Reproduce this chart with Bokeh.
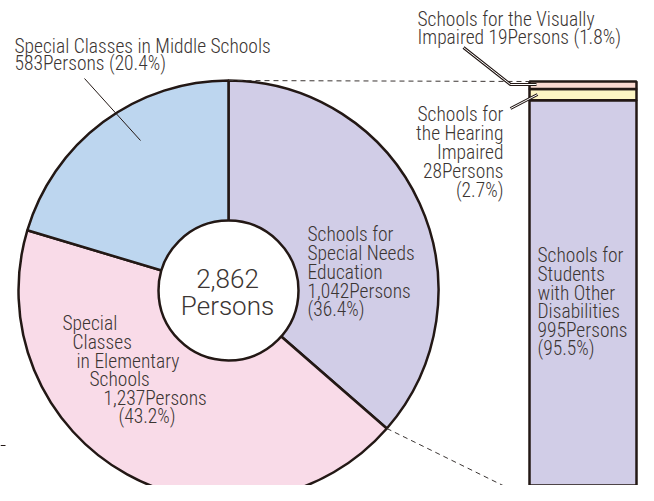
import math
from bokeh.plotting import figure
from bokeh.models import Range1d
from bokeh.core.properties import value
from bokeh.embed import file_html
from bokeh.resources import INLINE

# ---- data ----
pie_labels = ["Schools for Special Needs Education",
              "Special Classes in Elementary Schools",
              "Special Classes in Middle Schools"]
pie_values = [1042, 1237, 583]
pie_colors = ["#d1cde7", "#f9dbe8", "#bdd6ef"]

bar_labels = ["Schools for Students with Other Disabilities",
              "Schools for the Hearing Impaired",
              "Schools for the Visually Impaired"]
bar_values = [995, 28, 19]
bar_colors = ["#d1cde7", "#fcf5c4", "#fad8cf"]

center_text = ["2,862", "Persons"]

FONT = "Roboto Condensed Light"
FONT2 = "Roboto Light"
TXT = "#3b3533"
EDGE = "#231815"

W, H = 638, 485
p = figure(width=W, height=H, x_range=Range1d(0, W), y_range=Range1d(H, 0),
           output_backend="svg", toolbar_location=None, min_border=0,
           x_axis_location=None, y_axis_location=None)
p.grid.visible = False
p.outline_line_color = None
p.background_fill_color = "white"

# ---- pie ----
cx, cy, R, r_in = 228, 290, 210, 70
total = sum(pie_values)
starts, ends = [], []
cum = 0
for v in pie_values:
    starts.append(math.radians(90 - 360 * cum / total))
    cum += v
    ends.append(math.radians(90 - 360 * cum / total))

p.wedge(x=cx, y=cy, radius=R, start_angle=starts, end_angle=ends, direction="clock",
        fill_color=pie_colors, line_color=EDGE, line_width=2.5)
p.circle(x=cx, y=cy, radius=r_in, fill_color="white", line_color=EDGE, line_width=2.5)

# ---- bar ----
bar_top_px, bar_bot_px = 81, 498
btotal = sum(bar_values)
k = btotal / (bar_bot_px - bar_top_px)
p.extra_y_ranges = {"bar": Range1d(start=(bar_bot_px - H) * k, end=(bar_bot_px - 0) * k)}
bottoms, tops = [], []
c = 0
for v in bar_values:
    bottoms.append(c)
    c += v
    tops.append(c)
bar_x0, bar_x1 = 529, 636
p.vbar(x=(bar_x0 + bar_x1) / 2, width=bar_x1 - bar_x0, bottom=bottoms, top=tops,
       fill_color=bar_colors, line_color=EDGE, line_width=2.5, y_range_name="bar")

# ---- connectors (dashed) ----
p.line(x=[cx, bar_x0], y=[cy - R, bar_top_px], line_color="#3b3533", line_width=1,
       line_dash="5 4")
a = ends[0]
px_, py_ = cx + R * math.cos(a), cy - R * math.sin(a)
p.line(x=[px_, bar_x0], y=[py_, bar_bot_px], line_color="#3b3533", line_width=1,
       line_dash="5 4")

# small tick at far left
p.line(x=[0, 5], y=[445, 445], line_color=EDGE, line_width=1)

# ---- leader lines ----
p.line(x=[84, 140], y=[78, 140], line_color=EDGE, line_width=1)
for lw, col in [(3, EDGE), (1, "white")]:
    p.line(x=[463, 510, 536], y=[47, 84, 84], line_color=col, line_width=lw)
    p.line(x=[510, 537], y=[108, 94], line_color=col, line_width=lw)

# ---- texts ----
DY = -6
def lines(xs, ys, texts, align="left", size="19.5px", font=FONT):
    p.text(x=xs, y=[y + DY for y in ys], text=texts, text_align=align,
           text_baseline="alphabetic", text_font=value(font), text_font_size=size,
           text_color=TXT)

lines([417, 417], [25, 43], ["Schools for the Visually", "Impaired 19Persons (1.8%)"])
lines([14, 14], [52, 69], ["Special Classes in Middle Schools", "583Persons (20.4%)"])
lines([503] * 5, [120, 139, 158, 177, 196],
      ["Schools for", "the Hearing", "Impaired", "28Persons", "(2.7%)"], align="right")
lines([307] * 5, [240, 259, 278, 297, 315],
      ["Schools for", "Special Needs", "Education", "1,042Persons", "(36.4%)"])
lines([62, 72, 76, 89, 103, 118], [329, 348, 367, 385, 404, 422],
      ["Special", "Classes", "in Elementary", "Schools", "1,237Persons", "(43.2%)"])
lines([537] * 6, [261, 280, 299, 317, 336, 354],
      ["Schools for", "Students", "with Other", "Disabilities", "995Persons", "(95.5%)"])
lines([227, 227], [284, 311], center_text, align="center", size="26px", font=FONT2)

open("out.html", "w").write(file_html(p, INLINE))
